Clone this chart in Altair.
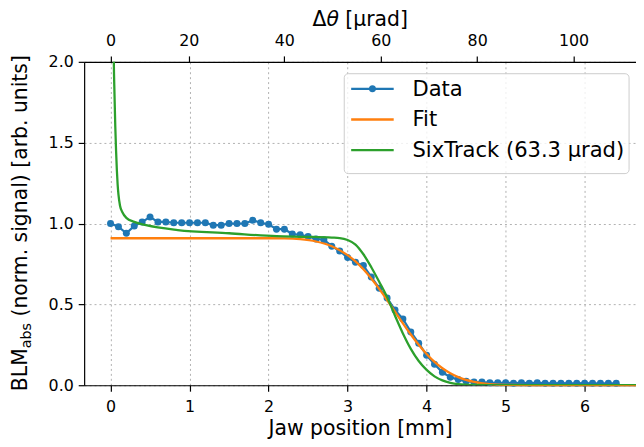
import json
import altair as alt
import pandas as pd

FONT = "DejaVu Sans"
BLUE, ORANGE, GREEN = "#1f77b4", "#ff7f0e", "#2ca02c"

# ---- data ----
jaw_mm = [0.0, 0.1, 0.2, 0.3, 0.4, 0.5, 0.6, 0.7, 0.8, 0.9,
          1.0, 1.1, 1.2, 1.3, 1.4, 1.5, 1.6, 1.7, 1.8, 1.9,
          2.0, 2.1, 2.2, 2.3, 2.4, 2.5, 2.6, 2.7, 2.8, 2.9,
          3.0, 3.1, 3.2, 3.3, 3.4, 3.5, 3.6, 3.7, 3.8, 3.9,
          4.0, 4.1, 4.2, 4.3, 4.4, 4.5, 4.6, 4.7, 4.8, 4.9,
          5.0, 5.1, 5.2, 5.3, 5.4, 5.5, 5.6, 5.7, 5.8, 5.9,
          6.0, 6.1, 6.2, 6.3, 6.4]
blm_data = [1.00, 0.98, 0.94, 0.985, 1.01, 1.04, 1.01, 1.01, 1.005, 1.005,
            1.005, 1.005, 1.005, 0.99, 0.99, 1.0, 1.0, 1.0, 1.02, 1.005,
            0.995, 0.965, 0.965, 0.935, 0.93, 0.92, 0.905, 0.90, 0.86, 0.83,
            0.79, 0.76, 0.74, 0.67, 0.60, 0.54, 0.465, 0.41, 0.33, 0.26,
            0.185, 0.13, 0.08, 0.05, 0.035, 0.025, 0.02, 0.02, 0.015, 0.015,
            0.015, 0.013, 0.015, 0.013, 0.015, 0.013, 0.012, 0.013, 0.012, 0.012,
            0.013, 0.012, 0.012, 0.012, 0.012]

fit_mm = [0.0, 2.0, 2.2, 2.4, 2.6, 2.8, 3.0, 3.1, 3.2, 3.3, 3.4, 3.5, 3.6,
          3.7, 3.8, 3.9, 4.0, 4.1, 4.2, 4.3, 4.4, 4.6, 4.8, 5.0, 5.5, 6.65]
fit_val = [0.909, 0.909, 0.908, 0.903, 0.889, 0.860, 0.805, 0.766, 0.717, 0.660,
           0.596, 0.527, 0.455, 0.383, 0.314, 0.250, 0.193, 0.144, 0.105, 0.074,
           0.050, 0.021, 0.007, 0.002, 0.0, 0.0]

six_mm = [0.035, 0.04, 0.05, 0.06, 0.07, 0.08, 0.09, 0.1, 0.12, 0.15, 0.2, 0.3,
          0.45, 0.85, 1.5, 2.1, 2.5, 2.8, 2.9, 3.0, 3.1, 3.2, 3.3, 3.4, 3.5, 3.6,
          3.7, 3.8, 3.9, 4.0, 4.1, 4.2, 4.3, 4.4, 4.6, 5.0, 6.65]
six_val = [2.3, 2.05, 1.8, 1.6, 1.45, 1.33, 1.24, 1.18, 1.11, 1.07, 1.035, 1.01,
           0.99, 0.96, 0.94, 0.922, 0.918, 0.913, 0.91, 0.898, 0.87, 0.81, 0.73,
           0.64, 0.545, 0.43, 0.32, 0.225, 0.15, 0.095, 0.055, 0.03, 0.015, 0.007,
           0.002, 0.0, 0.0]

bottom_ticks = [0, 1, 2, 3, 4, 5, 6]
y_ticks = [0.0, 0.5, 1.0, 1.5, 2.0]
top_tick_mm = [0.0, 0.99, 2.2, 3.42, 4.64, 5.86]
top_tick_labels = ["0", "20", "40", "60", "80", "100"]
legend_labels = ["Data", "Fit", "SixTrack (63.3 µrad)"]
legend_colors = [BLUE, ORANGE, GREEN]

# ---- layout ----
W, H = 558, 327
X_DOMAIN = [-0.334, 6.65]
TITLE_SIZE = 20.6

xs = alt.Scale(domain=X_DOMAIN, nice=False, zero=False)
ys = alt.Scale(domain=[0, 2], nice=False, zero=False)
grid_kw = dict(grid=True, gridColor="#b0b0b0", gridDash=[2, 3], gridWidth=1)

x_bottom = alt.X("x:Q", scale=xs,
                 axis=alt.Axis(orient="bottom", values=bottom_ticks, format="d",
                               title="Jaw position [mm]", titlePadding=4,
                               titleFontSize=TITLE_SIZE,
                               labelPadding=8, **grid_kw))
y_left = alt.Y("y:Q", scale=ys,
               axis=alt.Axis(values=y_ticks, format=".1f", title=None,
                             labelPadding=5, **grid_kw))

df_data = pd.DataFrame({"x": jaw_mm, "y": blm_data})
df_fit = pd.DataFrame({"x": fit_mm, "y": fit_val})
df_six = pd.DataFrame({"x": six_mm, "y": six_val})

data_line = alt.Chart(df_data).mark_line(color=BLUE, strokeWidth=2.2).encode(x=x_bottom, y=y_left)
data_pts = alt.Chart(df_data).mark_circle(color=BLUE, size=50, opacity=1).encode(x=x_bottom, y=y_left)
fit_line = alt.Chart(df_fit).mark_line(color=ORANGE, strokeWidth=2.3, interpolate="monotone").encode(x=x_bottom, y=y_left)
six_line = alt.Chart(df_six).mark_line(color=GREEN, strokeWidth=2.3, interpolate="monotone", clip=True).encode(x=x_bottom, y=y_left)

inner = alt.layer(data_line, data_pts, fit_line, six_line)

label_expr = "{}[indexof({}, datum.value)]".format(json.dumps(top_tick_labels), json.dumps(top_tick_mm))
top_axis = alt.Chart(pd.DataFrame({"t": top_tick_mm})).mark_point(opacity=0).encode(
    x=alt.X("t:Q", scale=xs,
            axis=alt.Axis(orient="top", values=top_tick_mm, labelExpr=label_expr,
                          title=None, grid=False, labelPadding=8))
)

one = pd.DataFrame({"a": [0]})


def txt(text, x, y, size=TITLE_SIZE, **kw):
    return alt.Chart(one).mark_text(text=text, font=FONT, fontSize=size, color="black", **kw).encode(
        x=alt.value(x), y=alt.value(y))


# legend
legend_box = alt.Chart(one).mark_rect(fill="white", fillOpacity=0.8, stroke="#cccccc", strokeWidth=1,
                                      cornerRadius=4).encode(
    x=alt.value(263), x2=alt.value(551), y=alt.value(12), y2=alt.value(113))
legend_layers = [legend_box]
row_y = [27.3, 58.3, 89.3]
for lab, col, ry in zip(legend_labels, legend_colors, row_y):
    legend_layers.append(alt.Chart(one).mark_rule(color=col, strokeWidth=2.3).encode(
        x=alt.value(270), x2=alt.value(313), y=alt.value(ry)))
    legend_layers.append(txt(lab, 332, ry + 1, size=21.3, align="left", baseline="middle"))
legend_layers.append(alt.Chart(one).mark_circle(color=BLUE, size=50, opacity=1).encode(
    x=alt.value(291.5), y=alt.value(row_y[0])))

# y-axis title with subscript
ytitle = [
    txt("BLM", -58, 333, angle=270, align="left", baseline="alphabetic"),
    txt("abs", -54, 289.5, size=14.4, angle=270, align="left", baseline="alphabetic"),
    txt("(norm. signal) [arb. units]", -58, 257.5, angle=270, align="left", baseline="alphabetic"),
]
# top-axis title with italic theta
ttitle = [
    txt("Δ", 231, -36, align="left", baseline="alphabetic"),
    txt("θ", 245, -36, align="left", baseline="alphabetic", fontStyle="italic"),
    txt("[µrad]", 264, -36, align="left", baseline="alphabetic"),
]

chart = alt.layer(inner, top_axis, *legend_layers, *ytitle, *ttitle).resolve_axis(
    x="independent"
).properties(
    width=W, height=H,
    autosize=alt.AutoSizeParams(type="none"),
    padding={"left": 77, "top": 52, "right": 0, "bottom": 59},
).configure_view(stroke=None).configure_axis(
    labelFont=FONT, titleFont=FONT, labelFontSize=16, titleFontSize=TITLE_SIZE,
    titleFontWeight="normal", labelColor="black", titleColor="black",
    tickColor="black", domainColor="black", domainWidth=1.2, tickWidth=1.2,
    tickSize=6,
)

chart.save("out.html", embed_options={"renderer": "svg", "actions": False})
